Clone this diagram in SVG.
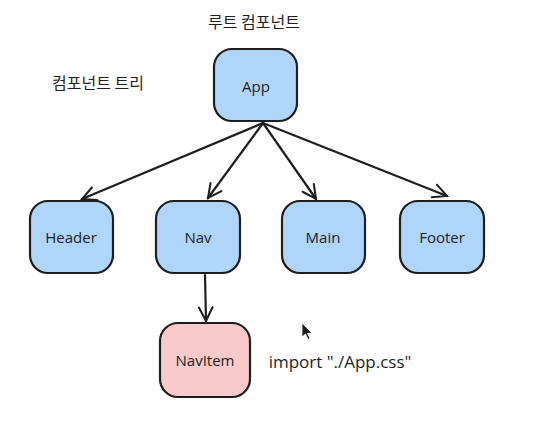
<svg xmlns="http://www.w3.org/2000/svg" width="548" height="433" viewBox="0 0 548 433">
<defs>
<style>
.box{stroke:#1e1e1e;stroke-width:2.2;}
.blue{fill:#b0d5fb;}
.pink{fill:#f8caca;}
.lbl{font-family:"Open Sans","Noto Sans",sans-serif;font-size:15px;fill:#1e1e1e;text-anchor:middle;dominant-baseline:central;}
.ko{font-family:"Noto Sans CJK KR",sans-serif;font-size:16px;fill:#1e1e1e;}
.edge{stroke:#1e1e1e;stroke-width:2.2;fill:none;stroke-linecap:round;}
</style>
<marker id="ah" viewBox="0 0 20 20" refX="18" refY="10" markerWidth="17" markerHeight="17" markerUnits="userSpaceOnUse" orient="auto">
<path d="M2,2 L18,10 L2,18" fill="none" stroke="#1e1e1e" stroke-width="2.4" stroke-linecap="round"/>
</marker>
</defs>
<rect width="548" height="433" fill="#ffffff"/>
<text class="ko" x="254" y="28" text-anchor="middle">루트 컴포넌트</text>
<text class="ko" x="52" y="89">컴포넌트 트리</text>
<g id="connectors">
<line class="edge" x1="263" y1="123" x2="82" y2="199" marker-end="url(#ah)"/>
<line class="edge" x1="263" y1="123" x2="208" y2="198" marker-end="url(#ah)"/>
<line class="edge" x1="263" y1="123" x2="316" y2="199" marker-end="url(#ah)"/>
<line class="edge" x1="263" y1="123" x2="447" y2="196" marker-end="url(#ah)"/>
<line class="edge" x1="205" y1="275" x2="206" y2="321" marker-end="url(#ah)"/>
</g>
<g id="app"><rect class="box blue" x="214" y="49" width="83" height="72" rx="18"/><text class="lbl" x="256" y="86">App</text></g>
<g id="header"><rect class="box blue" x="30" y="201" width="83" height="72" rx="18"/><text class="lbl" x="71" y="237">Header</text></g>
<g id="nav"><rect class="box blue" x="156" y="201" width="84" height="72" rx="18"/><text class="lbl" x="198" y="237">Nav</text></g>
<g id="main"><rect class="box blue" x="282" y="201" width="83" height="72" rx="18"/><text class="lbl" x="323" y="237">Main</text></g>
<g id="footer"><rect class="box blue" x="400" y="201" width="84" height="72" rx="18"/><text class="lbl" x="442" y="237">Footer</text></g>
<g id="navitem"><rect class="box pink" x="160" y="323" width="90" height="74" rx="18"/><text class="lbl" x="205" y="360">NavItem</text></g>
<text class="lbl" x="340" y="361" style="font-size:17px">import "./App.css"</text>
<path d="M302,323 L302,337 L305.5,334 L308,339.5 L310,338.5 L307.5,333.5 L312,333 Z" fill="#1e1e1e" stroke="#ffffff" stroke-width="0.8"/>
</svg>
